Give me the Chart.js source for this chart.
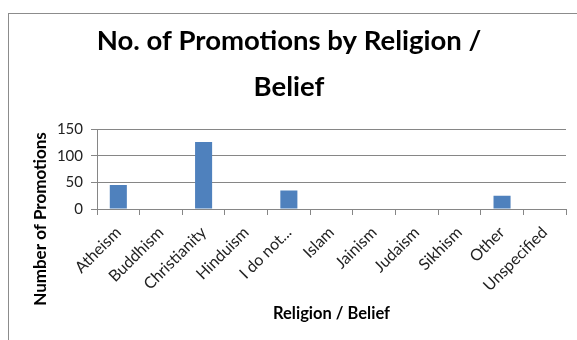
<!DOCTYPE html>
<html>
<head>
<meta charset="utf-8">
<script src="https://cdn.jsdelivr.net/npm/chart.js@4"></script>
<style>
  html, body { margin: 0; padding: 0; overflow: hidden; background: #fff; }
  #frame { position: absolute; left: 8px; top: 13px; width: 620px; height: 400px; border: 1px solid #8c8c8c; }
  #chart { position: absolute; left: 0; top: 0; }
</style>
</head>
<body>
<div id="frame"></div>
<canvas id="chart" width="577" height="340"></canvas>
<script>
// chart data
const religions = ['Atheism', 'Buddhism', 'Christianity', 'Hinduism', 'I do not...', 'Islam', 'Jainism', 'Judaism', 'Sikhism', 'Other', 'Unspecified'];
const promotions = [45, 0, 126, 0, 35, 0, 0, 0, 0, 25, 0];
const yTicks = [0, 50, 100, 150];

const FONT = 'Lato, "Open Sans", sans-serif';
const AXIS_GRAY = '#868686';

// y axis title sits lower than chart.js would put it, so draw it here
const yTitlePlugin = {
  id: 'yTitle',
  afterDraw(chart) {
    const ctx = chart.ctx;
    ctx.save();
    ctx.translate(41, 219);
    ctx.rotate(-Math.PI / 2);
    ctx.font = 'bold 17px ' + FONT;
    ctx.fillStyle = '#000';
    ctx.textAlign = 'center';
    ctx.textBaseline = 'middle';
    ctx.fillText('Number of Promotions', 0, 0);
    ctx.restore();
  }
};

new Chart(document.getElementById('chart'), {
  type: 'bar',
  data: {
    labels: religions,
    datasets: [{
      data: promotions,
      backgroundColor: '#4f81bd',
      categoryPercentage: 1,
      barPercentage: 0.4
    }]
  },
  options: {
    responsive: false,
    animation: false,
    layout: { padding: { top: 0, right: 11, bottom: 0, left: 12 } },
    plugins: {
      legend: { display: false },
      tooltip: { enabled: false },
      title: {
        display: true,
        text: ['No. of Promotions by Religion /', 'Belief'],
        color: '#000',
        font: { family: FONT, size: 27.5, weight: 'bold', lineHeight: 1.64 },
        padding: { top: 19, bottom: 20 }
      }
    },
    scales: {
      x: {
        grid: { display: true, drawOnChartArea: false, drawTicks: true, tickLength: 6, color: AXIS_GRAY, offset: true },
        border: { color: AXIS_GRAY },
        ticks: { color: '#222', font: { family: FONT, size: 16 }, maxRotation: 45, minRotation: 45, autoSkip: false, padding: 8 },
        title: { display: true, text: 'Religion / Belief', color: '#000', font: { family: FONT, size: 16.5, weight: 'bold' }, padding: { bottom: 16 } },
        afterFit(scale) { scale.height = 131; }
      },
      y: {
        min: 0,
        max: 150,
        afterBuildTicks(scale) { scale.ticks = yTicks.map(v => ({ value: v })); },
        grid: { color: AXIS_GRAY, tickLength: 6 },
        border: { color: AXIS_GRAY },
        ticks: { color: '#222', font: { family: FONT, size: 15 }, padding: 8 },
        afterFit(scale) { scale.width = 85; }
      }
    }
  },
  plugins: [yTitlePlugin]
});
</script>
</body>
</html>
